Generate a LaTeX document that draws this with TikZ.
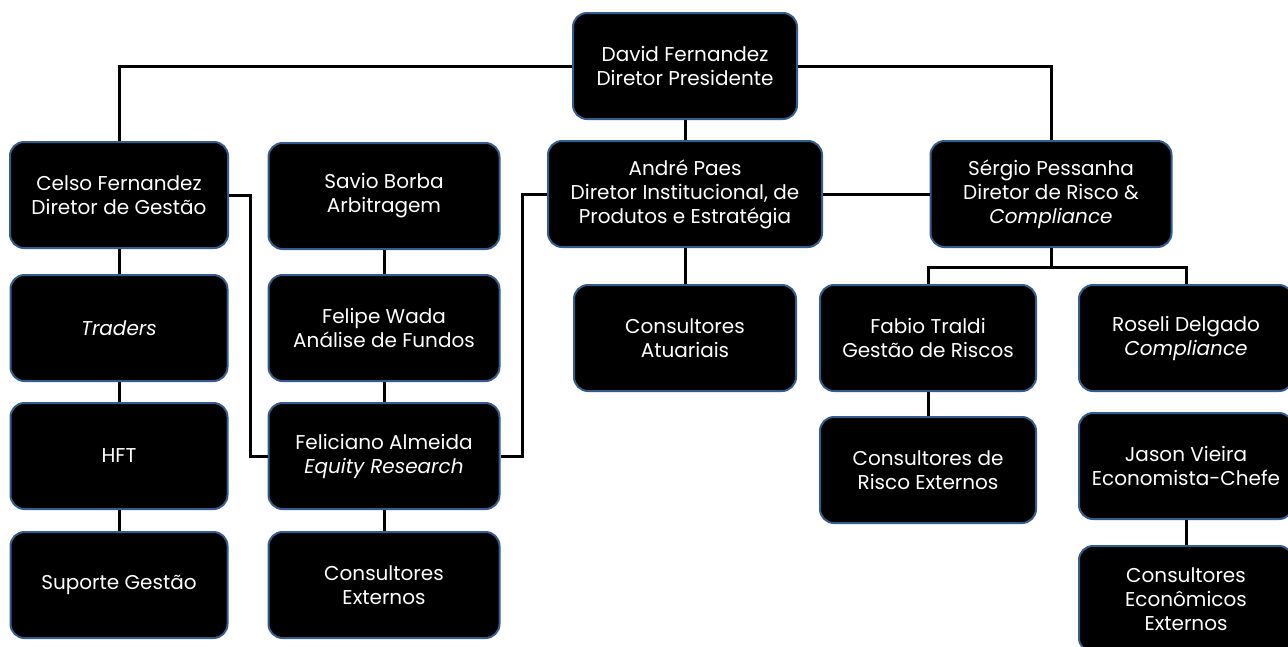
\documentclass[tikz,border=0pt]{standalone}
\usepackage{fontspec}
\setmainfont{Poppins}
\usepackage{tikz}
\usetikzlibrary{calc}
\usepackage{xcolor}
\definecolor{boxedge}{RGB}{52,92,140}

\begin{document}
\begin{tikzpicture}[x=1pt, y=-1pt,
  unit/.style={draw=boxedge, fill=black, line width=2pt, rounded corners=14pt,
    text=white, align=center, font=\fontsize{20}{24}\selectfont,
    minimum height=106pt, inner sep=2pt},
  link/.style={line width=3pt, black}]

\useasboundingbox (0,0) rectangle (1288,646);

% first level
\node[unit, minimum width=224pt] (david) at (685,66) {David Fernandez\\Diretor Presidente};
\node[unit, minimum width=218pt] (celso) at (119,195) {Celso Fernandez\\Diretor de Gestão};
\node[unit, minimum width=231pt] (savio) at (384,196) {Savio Borba\\Arbitragem};
\node[unit, minimum width=274pt] (andre) at (685,194)
  {André Paes\\Diretor Institucional, de\\Produtos e Estratégia};
\node[unit, minimum width=241pt] (sergio) at (1051,194)
  {Sérgio Pessanha\\Diretor de Risco \&\\\textit{Compliance}};

% second level
\node[unit, minimum width=217pt] (traders) at (119,328) {\textit{Traders}};
\node[unit, minimum width=231pt] (felipe) at (384,328) {Felipe Wada\\Análise de Fundos};
\node[unit, minimum width=222pt] (atuariais) at (685,338) {Consultores\\Atuariais};
\node[unit, minimum width=216pt] (fabio) at (928,338) {Fabio Traldi\\Gestão de Riscos};
\node[unit, minimum width=214pt] (roseli) at (1186,338) {Roseli Delgado\\\textit{Compliance}};

% third level
\node[unit, minimum width=217pt] (hft) at (119,456) {HFT};
\node[unit, minimum width=231pt] (feliciano) at (384,456)
  {Feliciano Almeida\\\textit{Equity Research}};
\node[unit, minimum width=216pt] (riscoext) at (928,470) {Consultores de\\Risco Externos};
\node[unit, minimum width=214pt] (jason) at (1186,466) {Jason Vieira\\Economista-Chefe};

% fourth level
\node[unit, minimum width=217pt] (suporte) at (119,585) {Suporte Gestão};
\node[unit, minimum width=231pt] (consext) at (384,585) {Consultores\\Externos};
\node[unit, minimum width=214pt] (econext) at (1186,599)
  {Consultores\\Econômicos\\Externos};

% connectors
\draw[link] (david.west) -| (celso.north);
\draw[link] (david.east) -| (sergio.north);
\draw[link] (david.south) -- (andre.north);
\draw[link] (andre.east) -- (sergio.west);
\draw[link] (celso.east) -- ++(21,0) |- (feliciano.west);
\draw[link] (andre.west) -- ++(-25,0) |- (feliciano.east);
\draw[link] (celso.south) -- (traders.north);
\draw[link] (traders.south) -- (hft.north);
\draw[link] (hft.south) -- (suporte.north);
\draw[link] (savio.south) -- (felipe.north);
\draw[link] (felipe.south) -- (feliciano.north);
\draw[link] (feliciano.south) -- (consext.north);
\draw[link] (andre.south) -- (atuariais.north);
\draw[link] (sergio.south) -- ++(0,19) coordinate (split);
\draw[link] (split) -| (fabio.north);
\draw[link] (split) -| (roseli.north);
\draw[link] (fabio.south) -- (riscoext.north);
\draw[link] (jason.south) -- (econext.north);
\end{tikzpicture}
\end{document}
